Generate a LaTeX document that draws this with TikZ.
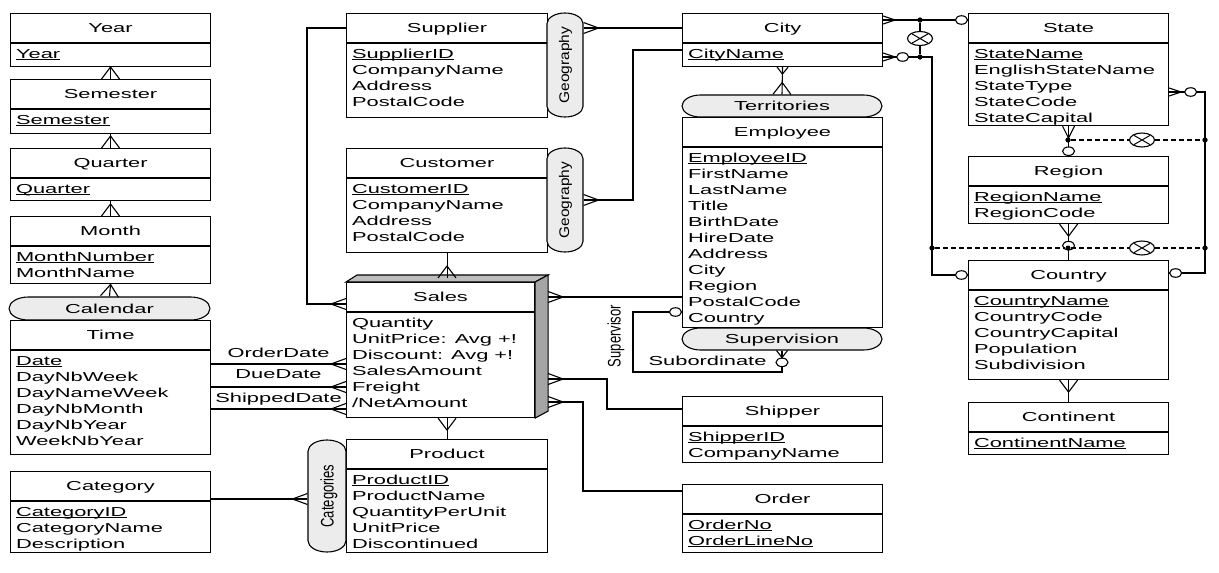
\documentclass[tikz,border=0pt]{standalone}
\usepackage{fontspec}
\setmainfont{Liberation Sans}[FakeStretch=1.68]
\newfontfamily\upfont{Liberation Sans}
\definecolor{capsulegray}{RGB}{236,236,236}
\definecolor{topgray}{RGB}{190,190,190}
\definecolor{sidegray}{RGB}{165,165,165}
\usetikzlibrary{arrows.meta, shapes.geometric}

% crow's foot: prongs touch the entity, line runs through the middle
\pgfdeclarearrow{
  name = Crow,
  parameters = {\the\pgfarrowlength,\the\pgfarrowwidth},
  setup code = {
    \pgfarrowssettipend{0pt}
    \pgfarrowssetlineend{0pt}
    \pgfarrowssetbackend{-\pgfarrowlength}
    \pgfarrowssetvisualbackend{-\pgfarrowlength}
    \pgfarrowshullpoint{0pt}{.5\pgfarrowwidth}
    \pgfarrowshullpoint{0pt}{-.5\pgfarrowwidth}
    \pgfarrowshullpoint{-\pgfarrowlength}{0pt}
    \pgfarrowssavethe\pgfarrowlength
    \pgfarrowssavethe\pgfarrowwidth
  },
  drawing code = {
    \pgfsetdash{}{0pt}
    \pgfsetroundjoin
    \pgfpathmoveto{\pgfqpoint{0pt}{.5\pgfarrowwidth}}
    \pgfpathlineto{\pgfqpoint{-\pgfarrowlength}{0pt}}
    \pgfpathlineto{\pgfqpoint{0pt}{-.5\pgfarrowwidth}}
    \pgfusepathqstroke
  },
  defaults = {length = 12pt, width = 10pt}
}

\tikzset{
  crowh/.tip={Crow[length=15pt, width=11pt]},
  crowv/.tip={Crow[length=12pt, width=18pt]},
  crowm/.tip={Crow[length=12pt, width=12pt]},
  crows/.tip={Crow[length=12pt, width=8pt]},
  crowt/.tip={Crow[length=7pt, width=11pt]}
}

\newcommand{\pk}[1]{\underline{\smash{#1}}\vphantom{Ag}}

% entity: [width] name, top-left, height, title, attributes
\newcommand{\entity}[6][200]{%
  \node[ebox, minimum width=#1, minimum height=#4] (#2) at #3 {};
  \draw ([yshift=-30pt]#2.north west) -- ([yshift=-30pt]#2.north east);
  \node[lbl] (#2-t) at ([yshift=-15pt]#2.north) {#5};
  \node[attr] (#2-a) at ([shift={(5.5,-35.7)}]#2.north west) {#6};
}

% horizontal capsule: name, x1, y1, x2, y2, label
\newcommand{\hcapsule}[6]{%
  \pgfmathsetmacro{\cry}{(#3-#5)/2}%
  \pgfmathsetmacro{\crx}{1.68*\cry}%
  \filldraw[fill=capsulegray] ({#2+\crx},#3) -- ({#4-\crx},#3)
    arc[start angle=90, end angle=-90, x radius=\crx, y radius=\cry]
    -- ({#2+\crx},#5)
    arc[start angle=270, end angle=90, x radius=\crx, y radius=\cry] -- cycle;
  \node[lbl, minimum width={#4-#2}, minimum height={#3-#5}] (#1) at ({(#2+#4)/2},{(#3+#5)/2}) {#6};
}

% vertical capsule: name, x1, y1, x2, y2, label options, label
\newcommand{\vcapsule}[7]{%
  \pgfmathsetmacro{\crx}{(#4-#2)/2}%
  \pgfmathsetmacro{\cry}{\crx/1.68}%
  \filldraw[fill=capsulegray] (#2,{#3-\cry}) -- (#2,{#5+\cry})
    arc[start angle=180, end angle=360, x radius=\crx, y radius=\cry]
    -- (#4,{#3-\cry})
    arc[start angle=0, end angle=180, x radius=\crx, y radius=\cry] -- cycle;
  \node[inner sep=0pt, minimum width={#4-#2}, minimum height={#3-#5}] (#1) at ({(#2+#4)/2},{(#3+#5)/2}) {};
  \node[#6] (#1-t) at (#1) {#7};
}

\begin{document}
\begin{tikzpicture}[x=1pt, y=1pt, line width=1.1pt,
  txt/.style={font=\fontsize{13}{16}\selectfont, inner sep=0pt},
  lbl/.style={txt, text height=9.3pt, text depth=0pt},
  attr/.style={txt, align=left, anchor=north west},
  vlbl/.style={font=\upfont\fontsize{13}{16}\selectfont, inner sep=0pt, text height=9.3pt, text depth=0pt, xscale=#1, rotate=90},
  ebox/.style={draw, fill=white, anchor=north west, inner sep=0pt},
  dot/.style={circle, fill, inner sep=0pt, minimum size=5pt},
  optc/.style={ellipse, draw, fill=white, inner sep=0pt, minimum width=12pt, minimum height=8.5pt},
  xorc/.style={ellipse, draw, fill=white, inner sep=0pt, minimum width=25pt, minimum height=14pt,
    path picture={\draw[line width=1pt]
      ([shift={(-8pt,-4.6pt)}]path picture bounding box.center) -- ([shift={(8pt,4.6pt)}]path picture bounding box.center)
      ([shift={(-8pt,4.6pt)}]path picture bounding box.center) -- ([shift={(8pt,-4.6pt)}]path picture bounding box.center);}},
  dashedline/.style={dash pattern=on 5pt off 3pt}]

  \useasboundingbox (0,0) rectangle (1219,-573);

  % Time dimension
  \entity{year}{(10,-13)}{53}{Year}{\pk{Year}}
  \entity{semester}{(10,-79)}{54}{Semester}{\pk{Semester}}
  \entity{quarter}{(10,-148)}{52}{Quarter}{\pk{Quarter}}
  \entity{month}{(10,-216)}{67}{Month}{\pk{MonthNumber}\\MonthName}
  \hcapsule{calendar}{9}{-297}{210}{-320}{Calendar}
  \entity{time}{(10,-320)}{134}{Time}{\pk{Date}\\DayNbWeek\\DayNameWeek\\DayNbMonth\\DayNbYear\\WeekNbYear}
  \entity{category}{(10,-471)}{81}{Category}{\pk{CategoryID}\\CategoryName\\Description}

  \draw[-crowv] (year.south) -- (semester.north);
  \draw[-crowv] (semester.south) -- (quarter.north);
  \draw[-crowv] (quarter.south) -- (month.north);
  \draw[-crowv] (month.south) -- (calendar.north);

  % Supplier, Customer, Sales, Product
  \entity[201]{supplier}{(346,-13)}{104}{Supplier}{\pk{SupplierID}\\CompanyName\\Address\\PostalCode}
  \vcapsule{geo1}{547}{-13}{583}{-117}{vlbl=0.9, font=\upfont\fontsize{15.5}{18}\selectfont}{Geography}
  \entity[201]{customer}{(346,-148)}{104}{Customer}{\pk{CustomerID}\\CompanyName\\Address\\PostalCode}
  \vcapsule{geo2}{547}{-148}{583}{-252}{vlbl=0.9, font=\upfont\fontsize{15.5}{18}\selectfont}{Geography}
  \entity[188]{sales}{(346,-282)}{135}{Sales}{Quantity\\UnitPrice: Avg +!\\Discount: Avg +!\\SalesAmount\\Freight\\/NetAmount}
  \filldraw[fill=topgray] (sales.north west) -- ++(11,7) -- ([shift={(13,7)}]sales.north east) -- (sales.north east) -- cycle;
  \filldraw[fill=sidegray] (sales.north east) -- ++(13,7) -- ([shift={(13,7)}]sales.south east) -- (sales.south east) -- cycle;
  \coordinate (sales-r) at ([xshift=13pt]sales.east);
  \coordinate (sales-top) at ([yshift=4pt]sales.north);
  \entity[201]{product}{(346,-439)}{113}{Product}{\pk{ProductID}\\ProductName\\QuantityPerUnit\\UnitPrice\\Discontinued}
  \vcapsule{cats}{308}{-440}{346}{-552}{vlbl=1.4}{Categories}

  \draw[-crowh] (time.east |- 0,-364) -- node[lbl, above=6pt] (lorder) {OrderDate} (sales.west |- 0,-364);
  \draw[-crowh] (time.east |- 0,-387) -- node[lbl, above=8pt] (ldue) {DueDate} (sales.west |- 0,-387);
  \draw[-crowh] (time.east |- 0,-409) -- node[lbl, above=6pt] (lship) {ShippedDate} (sales.west |- 0,-409);
  \draw[-crowh] (supplier.west |- 0,-28) -| (307,-304) -- (sales.west |- 0,-304);
  \draw[-crowv] (customer.south) -- (customer.south |- sales-top);
  \draw[crowv-] (product.north |- sales.south) -- (product.north);
  \draw[-crowh] (category.east |- 0,-499) -- (cats.west |- 0,-499);

  % City, Employee, Shipper, Order
  \entity{city}{(682,-13)}{53}{City}{\pk{CityName}}
  \hcapsule{terr}{682}{-95}{882}{-117}{Territories}
  \entity{employee}{(682,-117)}{210}{Employee}{\pk{EmployeeID}\\FirstName\\LastName\\Title\\BirthDate\\HireDate\\Address\\City\\Region\\PostalCode\\Country}
  \hcapsule{superv}{682}{-328}{882}{-350}{Supervision}
  \entity{shipper}{(682,-396)}{66}{Shipper}{\pk{ShipperID}\\CompanyName}
  \entity{order}{(682,-484)}{68}{Order}{\pk{OrderNo}\\\pk{OrderLineNo}}

  \draw[crowh-] (geo1.east |- 0,-28) -- (city.west |- 0,-28);
  \draw[crowh-] (geo2.east |- 0,-200) -| (633,-50) -- (city.west |- 0,-50);
  \draw[crowt-crowv] (city.south) -- (terr.north);
  \draw[crowh-] (sales-r |- 0,-297) -- (employee.west |- 0,-297);
  \draw[crowh-] (sales-r |- 0,-379) -| (607,-409) -- (shipper.west |- 0,-409);
  \draw[crowh-] (sales-r |- 0,-402) -| (583,-491) -- (order.west |- 0,-491);
  \draw[crowt-] (superv.south) -- node[optc, pos=.55] (osub) {} (superv.south |- 0,-372) -| (633,-312)
    -- (employee.west |- 0,-312) node[optc, anchor=east] (osup) {};
  \node[vlbl=1.4] (lsupervisor) at (614,-336) {Supervisor};
  \node[lbl, anchor=east] (lsubordinate) at (767,-361) {Subordinate};

  % State, Region, Country, Continent
  \entity{state}{(968,-13)}{112}{State}{\pk{StateName}\\EnglishStateName\\StateType\\StateCode\\StateCapital}
  \entity{region}{(968,-156)}{67}{Region}{\pk{RegionName}\\RegionCode}
  \entity{country}{(968,-260)}{119}{Country}{\pk{CountryName}\\CountryCode\\CountryCapital\\Population\\Subdivision}
  \entity{continent}{(968,-402)}{52}{Continent}{\pk{ContinentName}}

  \node[dot] (d1) at (920,-20) {};
  \node[dot] (d2) at (920,-57) {};
  \node[dot] (d3) at (932,-248) {};
  \node[dot] (d4) at (1068,-140) {};
  \node[dot] (d5) at (1068,-248) {};
  \node[dot] (d6) at (1205,-140) {};
  \node[dot] (d7) at (1205,-248) {};
  \node[xorc] (x1) at (920,-38.5) {};
  \node[xorc] (x2) at (1142,-140) {};
  \node[xorc] (x3) at (1142,-248) {};

  \draw[crows-] (city.east |- d1) -- (state.west |- d1) node[optc, anchor=east] {};
  \draw[crows-] (city.east |- d2) -- node[optc, pos=.53] {} (d2.center) -| (d3.center)
    |- (country.west |- 0,-275) node[optc, anchor=east] {};
  \draw (d1) -- (x1) -- (d2);
  \draw[crowm-] (state.south) -- (region.north) node[optc, anchor=south] {};
  \draw[crowv-] (region.south) -- node[optc, pos=.6] {} (country.north);
  \draw[crows-] (state.east |- 0,-92) -- node[optc, pos=.6] {} (d6 |- 0,-92) -- (d7.center)
    |- (country.east |- 0,-273) node[optc, anchor=west] {};
  \draw[dashedline] (d4) -- (x2) -- (d6);
  \draw[dashedline] (d3) -- (d5) -- (x3) -- (d7);
  \draw[crowv-] (country.south) -- (continent.north);
  % dots on top of the lines
  \foreach \d in {d1,d2,d3,d4,d5,d6,d7} \node[dot] at (\d) {};
\end{tikzpicture}
\end{document}
